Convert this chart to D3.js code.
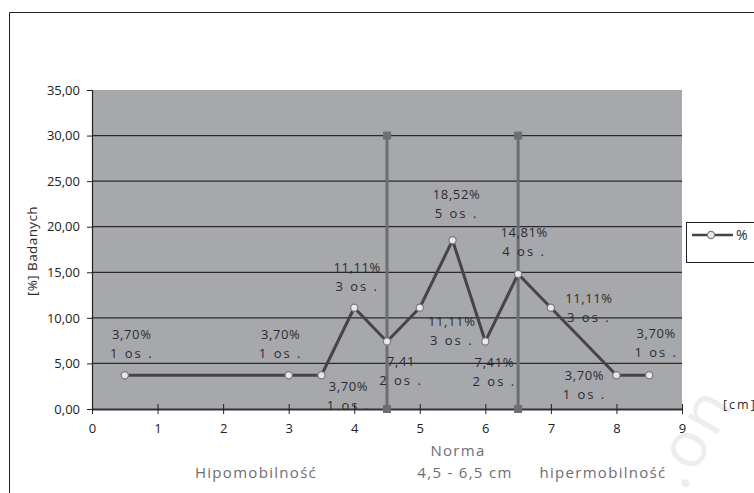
<!DOCTYPE html>
<html>
<head>
<meta charset="utf-8">
<script src="https://cdn.jsdelivr.net/npm/d3@7"></script>
<style>
  html, body { margin: 0; padding: 0; background: #fff; }
  svg { display: block; }
  text { font-family: "Open Sans", "DejaVu Sans", sans-serif; }
</style>
</head>
<body>
<svg id="chart" width="754" height="493"></svg>
<script>
// Mobility measurement [cm] and share of examined subjects [%]
const xValues   = [0.5, 3, 3.5, 4, 4.5, 5, 5.5, 6, 6.5, 7, 8, 8.5];
const percents  = [3.70, 3.70, 3.70, 11.11, 7.41, 11.11, 18.52, 7.41, 14.81, 11.11, 3.70, 3.70];
const persons   = [1, 1, 1, 3, 2, 3, 5, 2, 4, 3, 1, 1];
// first label line (one label is printed without the percent sign)
const pctLabels = ["3,70%", "3,70%", "3,70%", "11,11%", "7,41", "11,11%", "18,52%", "7,41%", "14,81%", "11,11%", "3,70%", "3,70%"];

// Norm range limits (4,5 – 6,5 cm)
const normLimits = [4.5, 6.5];
const normTop = 30;

const xTicks = d3.range(0, 10);
const yTicks = d3.range(0, 36, 5);

// label placement: offset of the first label baseline from its point, in px
const labelDx = [7, -8, 27, 3, 14, 32, 4, 9, 6, 38, -32, 7];
const labelDy = [-36, -36, 16, -36, 24.5, 18, -41, 25.5, -37, -5, 5, -37];

const svg = d3.select("#chart");

// watermark fragment
svg.append("text")
  .attr("transform", "translate(684,492) rotate(-60)")
  .attr("font-size", 64)
  .attr("fill", "#ededed")
  .attr("letter-spacing", 3)
  .text(".on");

// outer frame (left and top edges)
svg.append("path")
  .attr("d", "M9.5,493 V12.5 H754")
  .attr("fill", "none")
  .attr("stroke", "#222")
  .attr("stroke-width", 1);

const plotLeft = 92, plotRight = 682, plotTop = 90, plotBottom = 409;
const x = d3.scaleLinear().domain([0, 9]).range([plotLeft, plotRight]);
const y = d3.scaleLinear().domain([0, 35]).range([plotBottom, plotTop]);

// plot area
svg.append("rect")
  .attr("x", x(0)).attr("y", y(35))
  .attr("width", x(9) - x(0)).attr("height", y(0) - y(35))
  .attr("fill", "#a7a8ab");

// horizontal gridlines
svg.append("g")
  .selectAll("line")
  .data(yTicks.filter(d => d > 0 && d < 35))
  .join("line")
  .attr("x1", x(0)).attr("x2", x(9))
  .attr("y1", d => y(d)).attr("y2", d => y(d))
  .attr("stroke", "#2a2a2a")
  .attr("stroke-width", 1.2);

// y axis
const yAxis = svg.append("g")
  .attr("transform", `translate(${x(0)},0)`)
  .call(d3.axisLeft(y).tickValues(yTicks).tickSize(5).tickPadding(7)
    .tickFormat(d => d3.format(".2f")(d).replace(".", ",")));
yAxis.select(".domain").attr("stroke", "#222").attr("stroke-width", 1.2);
yAxis.selectAll(".tick line").attr("stroke", "#222");
yAxis.selectAll(".tick text")
  .attr("font-size", 13).attr("fill", "#222")
  .attr("font-family", "'Open Sans', sans-serif");

// x axis with ticks crossing the line
const xAxis = svg.append("g")
  .attr("transform", `translate(0,${y(0)})`)
  .call(d3.axisBottom(x).tickValues(xTicks).tickSizeInner(4).tickSizeOuter(0).tickPadding(11));
xAxis.select(".domain").attr("stroke", "#333").attr("stroke-width", 2);
xAxis.selectAll(".tick line").attr("y1", -5).attr("y2", 5).attr("stroke", "#222");
xAxis.selectAll(".tick text")
  .attr("font-size", 13).attr("fill", "#222")
  .attr("font-family", "'Open Sans', sans-serif");

// norm limit lines with square end markers
const norm = svg.append("g");
norm.selectAll("line")
  .data(normLimits)
  .join("line")
  .attr("x1", d => x(d)).attr("x2", d => x(d))
  .attr("y1", y(0)).attr("y2", y(normTop))
  .attr("stroke", "#6d6e71")
  .attr("stroke-width", 3);
norm.selectAll("rect")
  .data(normLimits.flatMap(d => [[d, 0], [d, normTop]]))
  .join("rect")
  .attr("x", d => x(d[0]) - 4).attr("y", d => y(d[1]) - 4)
  .attr("width", 8).attr("height", 8)
  .attr("fill", "#6d6e71");

// data series
const data = xValues.map((v, i) => ({ x: v, y: percents[i], n: persons[i], lab: pctLabels[i], dx: labelDx[i], dy: labelDy[i] }));

svg.append("path")
  .datum(data)
  .attr("fill", "none")
  .attr("stroke", "#454547")
  .attr("stroke-width", 3)
  .attr("stroke-linejoin", "round")
  .attr("d", d3.line().x(d => x(d.x)).y(d => y(d.y)));

svg.append("g")
  .selectAll("circle")
  .data(data)
  .join("circle")
  .attr("cx", d => x(d.x)).attr("cy", d => y(d.y))
  .attr("r", 3.6)
  .attr("fill", "#e8e8e8")
  .attr("stroke", "#7a7a7c")
  .attr("stroke-width", 1.2);

// data labels: percent and number of persons
const labels = svg.append("g")
  .attr("font-size", 13)
  .attr("fill", "#2b2b2b")
  .attr("text-anchor", "middle")
  .attr("letter-spacing", 0.6);
data.forEach(d => {
  const cx = x(d.x) + d.dx;
  const base = y(d.y) + d.dy;
  labels.append("text").attr("x", cx).attr("y", base).text(d.lab);
  labels.append("text").attr("x", cx).attr("y", base + 19).attr("letter-spacing", 2).text(d.n + " os .");
});

// axis titles
svg.append("text")
  .attr("transform", "translate(37,251) rotate(-90)")
  .attr("text-anchor", "middle")
  .attr("font-size", 13.5)
  .attr("letter-spacing", 0.4)
  .attr("fill", "#2b2b2b")
  .text("[%] Badanych");

svg.append("text")
  .attr("x", 723).attr("y", 409)
  .attr("font-size", 12.5)
  .attr("fill", "#2b2b2b")
  .attr("letter-spacing", 2)
  .text("[cm]");

// range descriptions below the axis
const ranges = svg.append("g")
  .attr("font-size", 15)
  .attr("fill", "#6d6e71")
  .attr("letter-spacing", 1.3)
  .attr("text-anchor", "middle");
ranges.append("text").attr("x", 458).attr("y", 456).text("Norma");
ranges.append("text").attr("x", 256).attr("y", 478).text("Hipomobilność");
ranges.append("text").attr("x", 465).attr("y", 478).text("4,5 - 6,5 cm");
ranges.append("text").attr("x", 603).attr("y", 478).text("hipermobilność");

// legend
const legend = svg.append("g");
legend.append("rect")
  .attr("x", 686.5).attr("y", 222.5)
  .attr("width", 80).attr("height", 40)
  .attr("fill", "#fff").attr("stroke", "#222").attr("stroke-width", 1);
legend.append("line")
  .attr("x1", 692).attr("x2", 733).attr("y1", 235).attr("y2", 235)
  .attr("stroke", "#454547").attr("stroke-width", 2.5);
legend.append("circle")
  .attr("cx", 711).attr("cy", 235).attr("r", 3.6)
  .attr("fill", "#e8e8e8").attr("stroke", "#7a7a7c").attr("stroke-width", 1.2);
legend.append("text")
  .attr("x", 736).attr("y", 240)
  .attr("font-size", 14).attr("fill", "#2b2b2b")
  .text("%");
</script>
</body>
</html>
